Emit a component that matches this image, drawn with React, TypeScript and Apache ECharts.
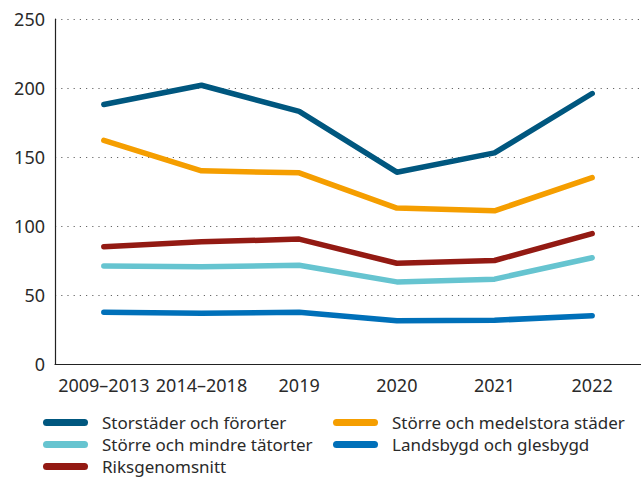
import React, { useEffect, useRef } from "react";
import * as echarts from "echarts";

const categories = ["2009–2013", "2014–2018", "2019", "2020", "2021", "2022"];
const storstader = [188, 202, 183, 139, 153, 196];
const medelstora = [162, 140, 138.5, 113, 111, 135];
const tatorter = [71, 70.5, 71.5, 59.5, 61.5, 77];
const landsbygd = [37.5, 36.8, 37.5, 31.3, 31.7, 35];
const riks = [85, 88.5, 90.5, 73, 75, 94.5];
const yTicks = [0, 50, 100, 150, 200, 250];

const names = {
  s: "Storstäder och förorter",
  m: "Större och medelstora städer",
  t: "Större och mindre tätorter",
  l: "Landsbygd och glesbygd",
  r: "Riksgenomsnitt",
};
const colors = {
  s: "#00577f",
  m: "#f59e00",
  t: "#66c4d0",
  l: "#0070b9",
  r: "#931a13",
};

const FONT = "Noto Sans";
const iconPath = "path://M3.5,0 H41.5 A3.5,3.5 0 0 1 41.5,7 H3.5 A3.5,3.5 0 0 1 3.5,0 Z";

export default function App() {
  const ref = useRef<HTMLDivElement>(null);
  useEffect(() => {
    if (!ref.current) return;
    const chart = echarts.init(ref.current, undefined, { renderer: "svg" });
    const mk = (key: keyof typeof names, data: number[]) => ({
      name: names[key],
      type: "line",
      data,
      symbol: "none",
      lineStyle: { width: 5.5, color: colors[key], cap: "round", join: "round" },
      itemStyle: { color: colors[key] },
      z: 3,
    });
    const legendCommon = {
      orient: "vertical",
      icon: iconPath,
      itemWidth: 45,
      itemHeight: 7,
      itemGap: 5,
      padding: 0,
      height: 75,
      textStyle: { fontFamily: FONT, fontSize: 17, color: "#2a2a2a", padding: [0, 0, 0, 9] },
      selectedMode: false,
    };
    chart.setOption({
      animation: false,
      textStyle: { fontFamily: FONT },
      grid: { left: 55, right: -16, top: 19, bottom: 115, containLabel: false },
      xAxis: {
        type: "category",
        data: categories,
        boundaryGap: true,
        axisLine: { lineStyle: { color: "#222", width: 1.2 } },
        axisTick: { inside: true, alignWithLabel: true, length: 8, lineStyle: { color: "#555" } },
        axisLabel: { fontFamily: FONT, fontSize: 18, color: "#2a2a2a", margin: 12, interval: 0 },
      },
      yAxis: {
        type: "value",
        min: 0,
        max: 250,
        interval: 50,
        axisLine: { show: true, lineStyle: { color: "#222", width: 1.2 } },
        axisTick: { show: false },
        axisLabel: {
          fontFamily: FONT,
          fontSize: 18,
          color: "#2a2a2a",
          margin: 10,
          formatter: (v: number) => (yTicks.includes(v) ? String(v) : ""),
        },
        splitLine: {
          show: true,
          showMinLine: false,
          lineStyle: { color: "#666", width: 1.2, type: [1.2, 5] },
        },
      },
      legend: [
        {
          ...legendCommon,
          left: 43,
          top: 414,
          data: [names.s, names.t, names.r],
        },
        {
          ...legendCommon,
          left: 333,
          top: 414,
          data: [names.m, names.l],
        },
      ],
      series: [
        mk("s", storstader),
        mk("m", medelstora),
        mk("t", tatorter),
        mk("l", landsbygd),
        mk("r", riks),
      ],
    });
    return () => chart.dispose();
  }, []);
  return <div ref={ref} style={{ width: 641, height: 479, position: "absolute", left: 0, top: 0 }} />;
}
